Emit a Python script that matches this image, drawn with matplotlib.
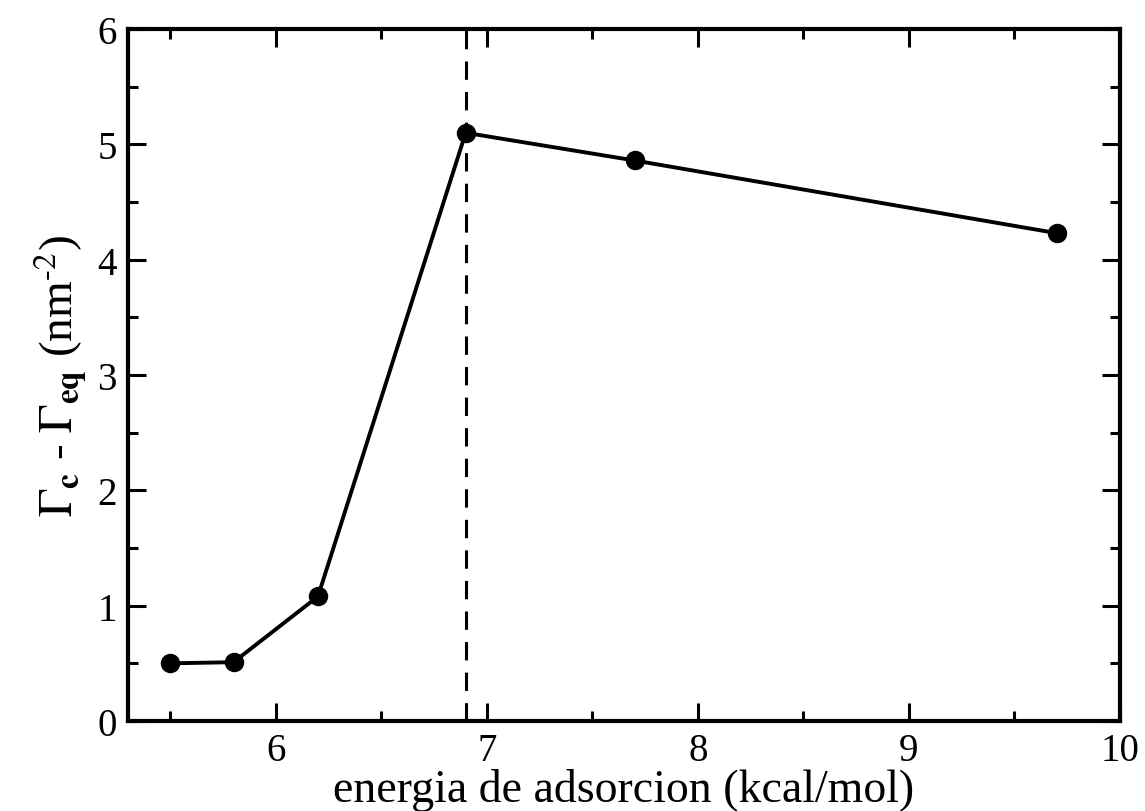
import matplotlib
matplotlib.use("Agg")
import matplotlib.pyplot as plt
from matplotlib.ticker import MultipleLocator

energy = [5.5, 5.8, 6.2, 6.9, 7.7, 9.7]
gamma_diff = [0.50, 0.51, 1.08, 5.10, 4.86, 4.23]
vline_x = 6.9
x_ticks = [6, 7, 8, 9, 10]
y_ticks = [0, 1, 2, 3, 4, 5, 6]

plt.rcParams['font.family'] = ['Liberation Serif', 'DejaVu Serif']
plt.rcParams['mathtext.fontset'] = 'stix'

fig = plt.figure(figsize=(11.45, 8.12), dpi=100)
ax = fig.add_axes([128/1145, 1 - 722/812, (1120-128)/1145, (722-30)/812])

ax.plot(energy, gamma_diff, color='black', lw=2.8, marker='o', ms=13, zorder=3)
ax.axvline(vline_x, color='black', lw=2.2, ls=(0, (6, 4)), zorder=2)

ax.set_xlim(5.3, 10)
ax.set_ylim(0, 6)
ax.set_xticks(x_ticks)
ax.set_yticks(y_ticks)
ax.xaxis.set_minor_locator(MultipleLocator(0.5))
ax.yaxis.set_minor_locator(MultipleLocator(0.5))
ax.tick_params(which='both', direction='in', top=True, right=True, width=2.2,
               labelsize=28, color='black')
ax.tick_params(which='major', length=13, pad=8)
ax.tick_params(which='minor', length=7)
for s in ax.spines.values():
    s.set_linewidth(3.0)

ax.set_xlabel('energia de adsorcion (kcal/mol)', fontsize=33)
ax.xaxis.set_label_coords(0.5, -0.068)
ax.set_ylabel(r'$\Gamma_{\mathbf{c}}$ - $\Gamma_{\mathbf{eq}}$ (nm$^{\text{-2}}$)',
              fontsize=34, labelpad=6)

fig.savefig('out.png', dpi=100)
